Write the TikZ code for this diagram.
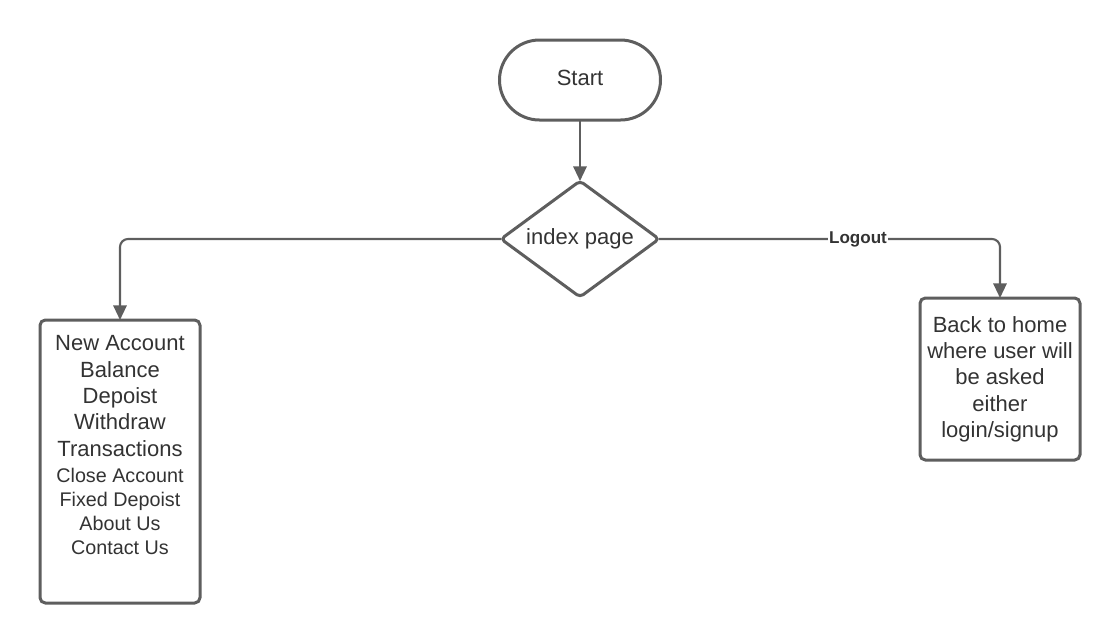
\documentclass[tikz,border=0pt]{standalone}
\usepackage{fontspec}
\setmainfont{Liberation Sans}
\usetikzlibrary{shapes.geometric,arrows.meta}
\definecolor{linec}{HTML}{5E5E5E}
\definecolor{textc}{HTML}{333333}
\tikzset{
  every node/.style={text=textc},
  shapeline/.style={draw=linec, line width=2.25pt, fill=white},
  conn/.style={draw=linec, line width=1.6pt, rounded corners=6pt, -{Triangle[length=11pt,width=10pt]}},
  bigtext/.style={font=\fontsize{16.5}{19.75}\selectfont, align=center},
  smalltext/.style={font=\fontsize{14.8}{18}\selectfont, align=center},
  lbl/.style={font=\bfseries\fontsize{12.8}{14}\selectfont, fill=white, inner sep=1pt},
}
\begin{document}
\begin{tikzpicture}[x=0.75pt,y=-0.75pt]
\useasboundingbox (0,0) rectangle (1120,643);
\node[shapeline, rounded corners=30pt, minimum width=120.75pt, minimum height=60pt, bigtext, inner sep=0pt, outer sep=0pt] (start) at (580,80) {\raisebox{3pt}{Start}};
\node[shapeline, diamond, aspect=1.36, rounded corners=3pt, minimum width=118.5pt, minimum height=87pt, inner sep=0pt, outer sep=0pt, bigtext] (dia) at (580,239) {index page};
\node[shapeline, rounded corners=4pt, minimum width=120pt, minimum height=212.25pt, inner sep=0pt, outer sep=0pt] (lbox) at (120,461.5) {};
\node[bigtext, inner sep=0pt] (ltop) at (120,396) {New Account\\Balance\\Depoist\\Withdraw\\Transactions};
\node[smalltext, inner sep=0pt] (lbot) at (120,511) {Close Account\\Fixed Depoist\\About Us\\Contact Us};
\node[shapeline, rounded corners=4pt, minimum width=120pt, minimum height=121.5pt, inner sep=0pt, outer sep=0pt, bigtext] (rbox) at (1000,379) {Back to home\\where user will\\be asked\\either\\login/signup};
\draw[conn] (start.south) -- (dia.north);
\draw[conn] (dia.west) -| (lbox.north);
\draw[conn] (dia.east) -| (rbox.north);
\node[lbl] (logout) at (858,239) {Logout};
\end{tikzpicture}
\end{document}
